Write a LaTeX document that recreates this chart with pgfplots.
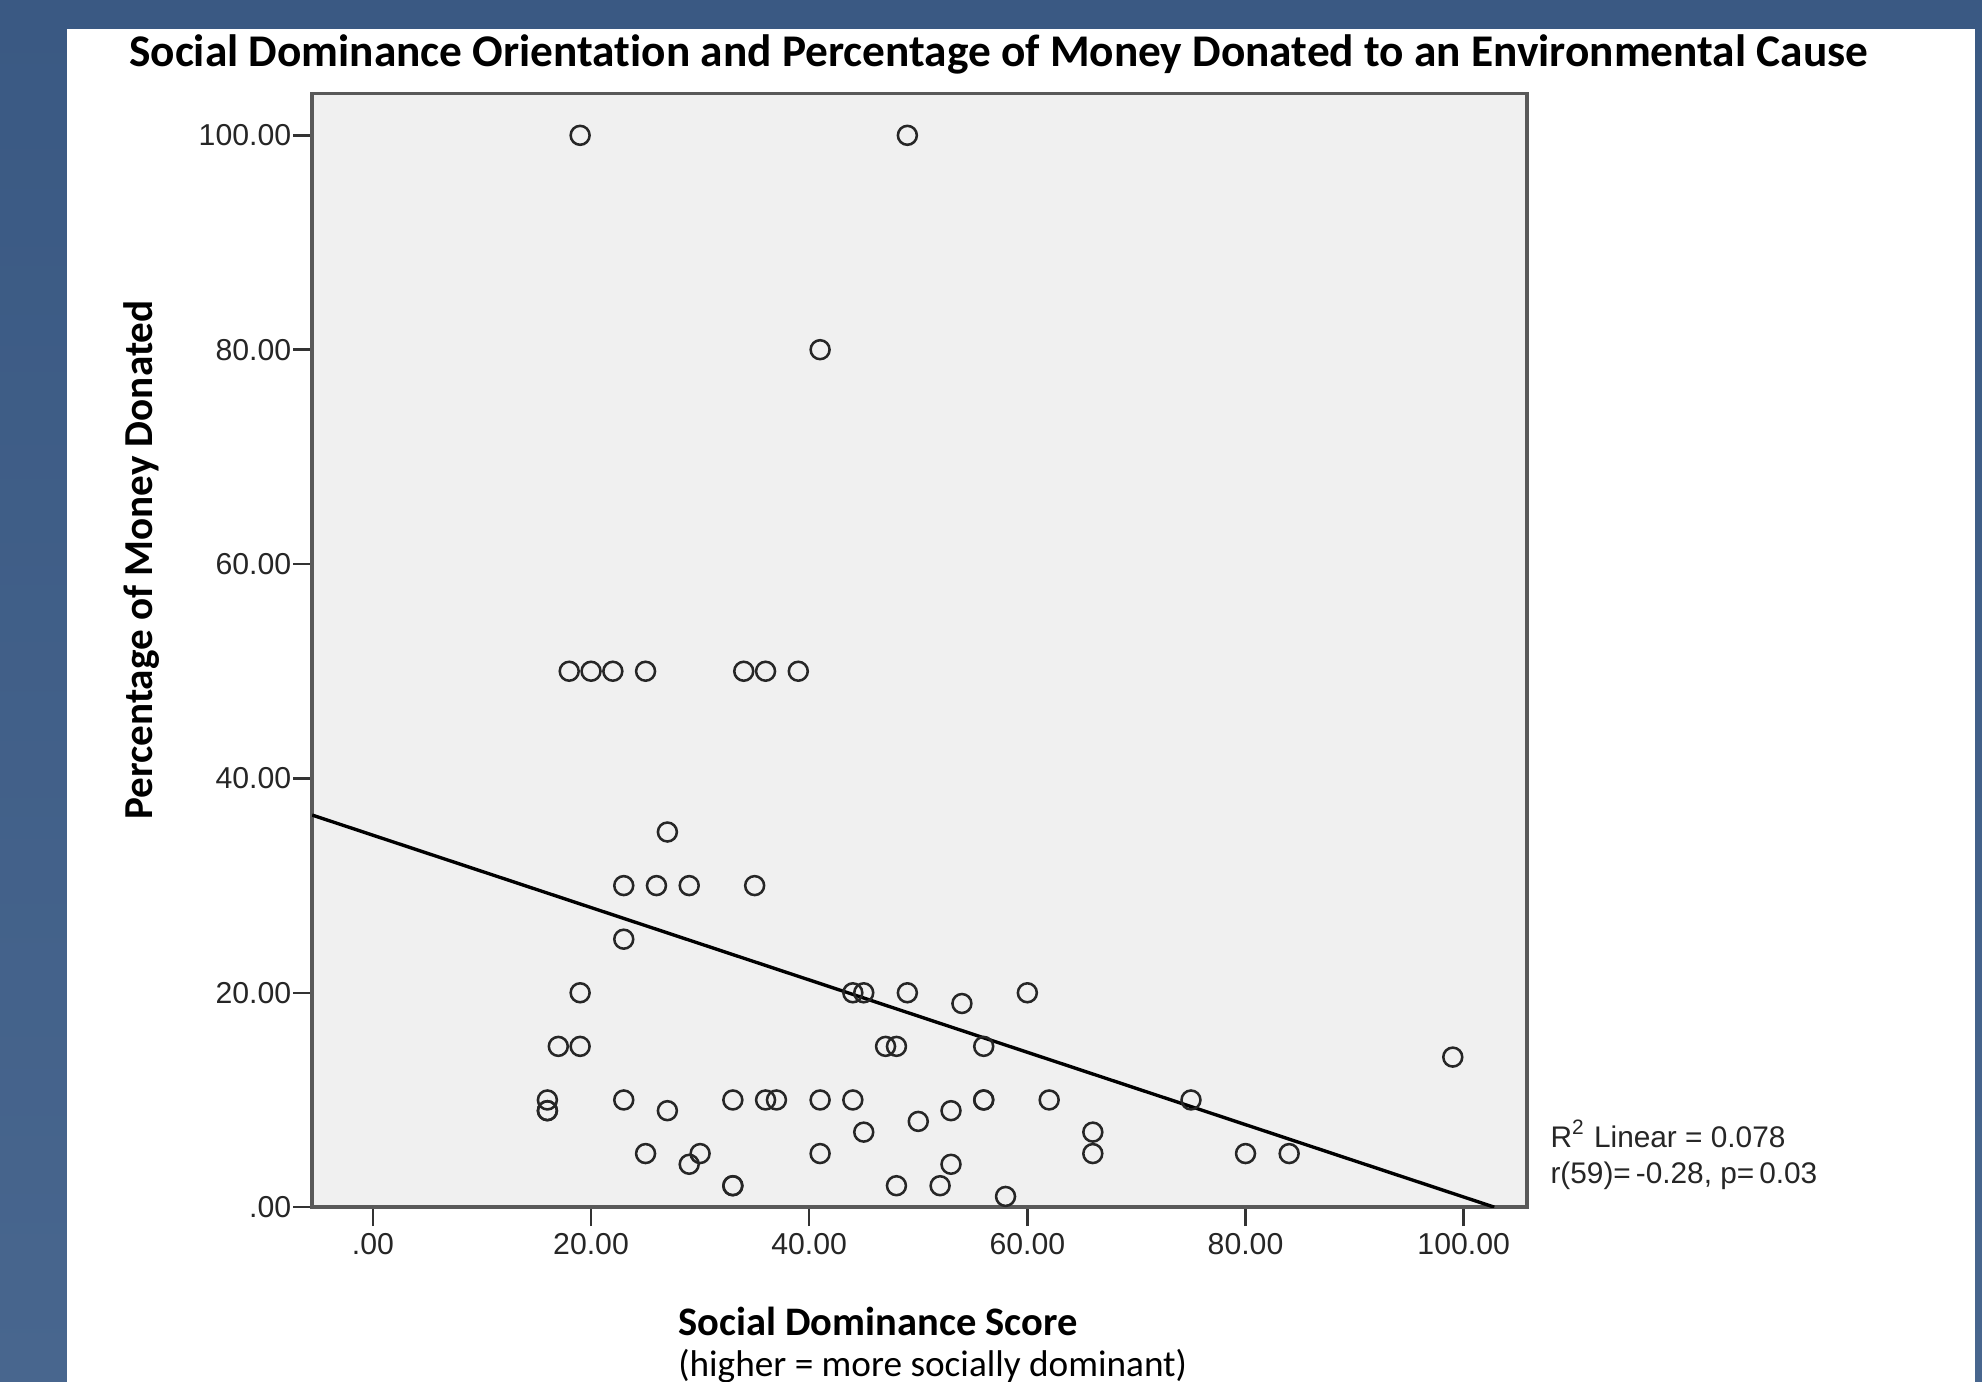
\documentclass[border=0pt]{standalone}
\usepackage{fontspec}
\usepackage{pgfplots}
\pgfplotsset{compat=1.18}
\setmainfont{Liberation Sans}
\newfontfamily\calibri[Ligatures=NoCommon]{Carlito}
\definecolor{bluetop}{HTML}{3A5983}
\definecolor{bluebot}{HTML}{48668E}
\definecolor{plotbg}{HTML}{F0F0F0}
\begin{document}
\begin{tikzpicture}
\path[use as bounding box] (0,0) rectangle (470.4bp,327.9bp);
\clip (0,0) rectangle (470.4bp,327.9bp);
\shade[top color=bluetop, bottom color=bluebot] (0,0) rectangle (470.4bp,327.9bp);
\fill[white] (15.9bp,0) rectangle (468.75bp,321.0bp);
\begin{axis}[
  at={(74.1bp,41.4bp)}, anchor=south west,
  scale only axis, width=288.3bp, height=264.3bp,
  xmin=-5.56, xmax=105.8, ymin=0, ymax=103.9,
  xtick={0,20,40,60,80,100}, ytick={0,20,40,60,80,100},
  xticklabels={.00,20.00,40.00,60.00,80.00,100.00},
  yticklabels={.00,20.00,40.00,60.00,80.00,100.00},
  tick align=outside, major tick length=4.5bp,
  xtick pos=left, ytick pos=left,
  axis background/.style={fill=plotbg},
  axis line style={draw=black!65, line width=0.85bp},
  every tick/.style={black!80, line width=0.6bp},
  tick label style={font=\fontsize{7.2}{8}\selectfont, text=black!85},
  yticklabel style={inner sep=0.3bp},
  xticklabel style={inner sep=1.5bp},
]
\addplot[only marks, mark=o, mark size=2.25bp, mark options={line width=0.6bp, draw=black!85}] coordinates {
(19,100) (49,100)
(41,80)
(18,50) (20,50) (22,50) (25,50) (34,50) (36,50) (39,50)
(27,35)
(23,30) (26,30) (29,30) (35,30)
(23,25)
(19,20) (44,20) (45,20) (49,20) (60,20)
(54,19)
(17,15) (19,15) (47,15) (48,15) (56,15)
(99,14)
(16,10) (23,10) (33,10) (36,10) (37,10) (41,10) (44,10) (56,10) (56,10) (62,10) (75,10)
(16,9) (16,9) (27,9) (53,9)
(50,8)
(45,7) (66,7)
(25,5) (30,5) (41,5) (66,5) (80,5) (84,5)
(29,4) (53,4)
(33,2) (33,2) (48,2) (52,2)
(58,1)
};
\addplot[black, line width=0.8bp] coordinates {(-5.56,36.58) (102.8,0)};
\end{axis}
\node[anchor=base, font=\calibri\bfseries\fontsize{10.8}{12}\selectfont, inner sep=0] at (237bp,312bp) {Social Dominance Orientation and Percentage of Money Donated to an Environmental Cause};
\node[anchor=base, rotate=90, font=\calibri\bfseries\fontsize{9.8}{11}\selectfont, inner sep=0] at (36.2bp,195bp) {Percentage of Money Donated};
\node[anchor=base west, font=\calibri\bfseries\fontsize{9.65}{11}\selectfont, inner sep=0] at (160.8bp,11.0bp) {Social Dominance Score};
\node[anchor=base west, font=\calibri\fontsize{8.87}{10}\selectfont, inner sep=0] at (160.8bp,1.2bp) {(higher = more socially dominant)};
\node[anchor=west, font=\fontsize{7.1}{8}\selectfont, inner sep=0, text=black!85] at (367.8bp,58.8bp) {R\textsuperscript{2} Linear = 0.078};
\node[anchor=west, font=\fontsize{7.1}{8}\selectfont, inner sep=0, text=black!85] at (367.8bp,48.9bp) {r(59)=\,-0.28, p=\,0.03};
\end{tikzpicture}
\end{document}
